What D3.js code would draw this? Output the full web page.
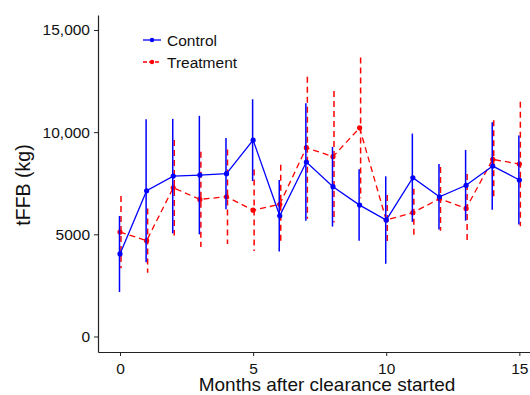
<!DOCTYPE html>
<html>
<head>
<meta charset="utf-8">
<script src="https://cdn.jsdelivr.net/npm/d3@7"></script>
<style>
  body { margin: 0; background: #fff; }
  text { font-family: "Liberation Sans", Arial, sans-serif; }
</style>
</head>
<body>
<div id="Area"></div>
<script>
// months after clearance started
var months = [0, 1, 2, 3, 4, 5, 6, 7, 8, 9, 10, 11, 12, 13, 14, 15];

// mean tFFB (kg) and error bar half-widths
var controlMean = [4040, 7130, 7850, 7900, 7970, 9610, 5910, 8540, 7330, 6430, 5700, 7770, 6840, 7400, 8340, 7660];
var controlErr  = [1860, 3500, 2800, 2900, 1740, 2000, 1750, 2870, 1950, 1750, 2140, 2160, 1600, 1730, 2140, 2180];
var treatMean   = [5110, 4690, 7280, 6710, 6840, 6180, 6470, 9240, 8800, 10210, 5700, 6060, 6740, 6270, 8670, 8440];
var treatErr    = [1770, 1570, 2340, 2330, 2315, 1990, 1940, 3475, 3220, 3440, 1220, 1170, 1560, 1680, 1915, 3050];

var yTicks = [0, 5000, 10000, 15000];
var yTickLabels = ["0", "5000", "10,000", "15,000"];
var xTicks = [0, 5, 10, 15];

var width = 530, height = 395;

var svg = d3.select("#Area")
  .append("svg")
    .attr("width", width)
    .attr("height", height);

var x = d3.scaleLinear()
    .domain([-0.826, 15.40])
    .range([98, 530]);

var y = d3.scaleLinear()
    .domain([-759, 15734])
    .range([352, 15]);

// axes
var xAxis = svg.append("g")
  .attr("transform", "translate(0,352)")
  .call(d3.axisBottom(x).tickValues(xTicks).tickSize(4).tickSizeOuter(0).tickPadding(7));

var yAxis = svg.append("g")
  .attr("transform", "translate(98,0)")
  .call(d3.axisLeft(y).tickValues(yTicks).tickSize(4).tickSizeOuter(0).tickPadding(4)
    .tickFormat(function(d, i) { return yTickLabels[i]; }));

[xAxis, yAxis].forEach(function(a) {
  a.select(".domain").attr("stroke", "#222").attr("stroke-width", 1.2);
  a.selectAll(".tick line").attr("stroke", "#222");
  a.selectAll(".tick text").attr("font-size", 15.5).attr("fill", "#111")
    .style("font-family", "'Liberation Sans', Arial, sans-serif");
});

// axis titles
svg.append("text")
  .attr("x", 327)
  .attr("y", 391)
  .attr("text-anchor", "middle")
  .attr("font-size", 19)
  .attr("fill", "#111")
  .text("Months after clearance started");

svg.append("text")
  .attr("transform", "translate(30,185) rotate(-90)")
  .attr("text-anchor", "middle")
  .attr("font-size", 19.5)
  .attr("fill", "#111")
  .text("tFFB (kg)");

function drawSeries(mean, err, color, dash, dodge) {
  var data = months.map(function(m, i) { return {m: m, v: mean[i], e: err[i]}; });
  var g = svg.append("g");

  g.selectAll(".bar")
    .data(data)
    .enter()
    .append("line")
    .attr("x1", function(d) { return x(d.m) + dodge; })
    .attr("x2", function(d) { return x(d.m) + dodge; })
    .attr("y1", function(d) { return y(d.v + d.e); })
    .attr("y2", function(d) { return y(d.v - d.e); })
    .attr("stroke", color)
    .attr("stroke-width", 1.5)
    .attr("stroke-dasharray", dash);

  g.append("path")
    .datum(data)
    .attr("d", d3.line()
      .x(function(d) { return x(d.m); })
      .y(function(d) { return y(d.v); }))
    .attr("stroke", color)
    .attr("stroke-width", 1.3)
    .attr("stroke-dasharray", dash)
    .attr("fill", "none");

  g.selectAll("circle")
    .data(data)
    .enter()
    .append("circle")
    .attr("cx", function(d) { return x(d.m); })
    .attr("cy", function(d) { return y(d.v); })
    .attr("r", 2.6)
    .attr("fill", color);
}

drawSeries(treatMean, treatErr, "#ff0000", "6,4", 1);
drawSeries(controlMean, controlErr, "#0000ff", null, -0.5);

// legend
var legend = [
  {name: "Control", color: "#0000ff", dash: null},
  {name: "Treatment", color: "#ff0000", dash: "4,2"}
];
var lg = svg.append("g").attr("transform", "translate(143,40)");
legend.forEach(function(d, i) {
  var row = lg.append("g").attr("transform", "translate(0," + (i * 22) + ")");
  row.append("line")
    .attr("x1", 0).attr("x2", 18)
    .attr("stroke", d.color)
    .attr("stroke-width", 1.3)
    .attr("stroke-dasharray", d.dash);
  row.append("circle").attr("cx", 9).attr("r", 2.2).attr("fill", d.color);
  row.append("text")
    .attr("x", 24)
    .attr("y", 5.5)
    .attr("font-size", 15.5)
    .attr("fill", "#111")
    .text(d.name);
});
</script>
</body>
</html>
